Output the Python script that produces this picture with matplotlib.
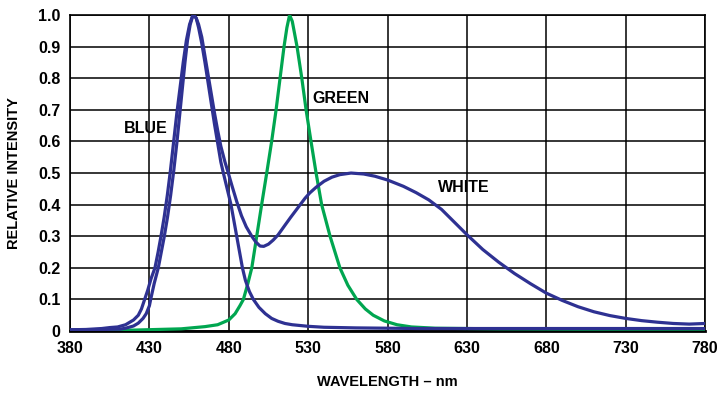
import matplotlib
matplotlib.use("Agg")
import matplotlib.pyplot as plt

# wavelength (nm) / relative intensity
blue_nm = [380, 390, 400, 411.5, 415, 420, 423, 426, 428, 430, 430.8, 433, 435.6, 437.5,
           439.4, 441.4, 443.4, 445.4, 447.4, 449.2, 450.8, 452.4, 454, 455.7, 457.2, 458,
           459.5, 461, 463, 465, 467, 469, 471, 473, 475, 476.6, 479, 481.4, 483.2, 485,
           486.8, 488.6, 490.5, 493, 495.5, 499, 503, 507, 511, 515.4, 520, 530, 540, 560,
           600, 700, 780]
blue_val = [0.004, 0.004, 0.005, 0.006, 0.009, 0.016, 0.025, 0.04, 0.055, 0.08, 0.1, 0.15,
            0.2, 0.25, 0.3, 0.36, 0.43, 0.51, 0.6, 0.69, 0.77, 0.85, 0.92, 0.97, 0.995, 1.0,
            0.99, 0.96, 0.91, 0.85, 0.785, 0.72, 0.655, 0.595, 0.535, 0.5, 0.45, 0.4, 0.35,
            0.3, 0.25, 0.2, 0.16, 0.125, 0.1, 0.075, 0.055, 0.04, 0.031, 0.024, 0.02, 0.015,
            0.012, 0.01, 0.008, 0.008, 0.008]

white_nm = [380, 390, 400, 405, 410, 415, 420, 423, 425, 427, 429, 431, 433.5, 435.5,
            437.3, 439.3, 441.3, 443.3, 445.3, 447.3, 449.3, 451.3, 453.3, 455.3, 457, 458,
            459.5, 461, 463, 465, 467, 469, 471, 473, 475, 477.6, 479.7, 482, 485, 488, 491,
            494.5, 497, 499.7, 502, 505, 508, 511, 515.4, 519, 522, 525, 528, 531, 535, 540,
            545, 550, 557, 565, 572, 580, 590, 598, 606, 614, 622, 630, 640, 650, 660, 670,
            680, 690, 700, 710, 720, 730, 740, 750, 760, 770, 780]
white_val = [0.004, 0.005, 0.008, 0.011, 0.013, 0.02, 0.035, 0.05, 0.07, 0.1, 0.13, 0.165,
             0.2, 0.25, 0.3, 0.36, 0.43, 0.51, 0.6, 0.69, 0.77, 0.85, 0.92, 0.97, 0.995,
             1.0, 0.99, 0.97, 0.93, 0.87, 0.81, 0.75, 0.69, 0.635, 0.585, 0.535, 0.5, 0.46,
             0.41, 0.365, 0.33, 0.3, 0.282, 0.269, 0.268, 0.275, 0.288, 0.304, 0.335, 0.36,
             0.38, 0.4, 0.42, 0.437, 0.455, 0.474, 0.487, 0.495, 0.5, 0.497, 0.49, 0.478,
             0.458, 0.438, 0.415, 0.385, 0.345, 0.305, 0.258, 0.218, 0.182, 0.15, 0.12,
             0.097, 0.077, 0.061, 0.049, 0.04, 0.033, 0.028, 0.024, 0.022, 0.024]

green_nm = [380, 420, 450, 465, 473, 480, 484, 487, 489.2, 492, 494.5, 497.6, 500.7, 503.9,
            507, 509.8, 512.3, 514.8, 516.6, 518.3, 520, 521.5, 523, 526, 528.7, 531.8, 535,
            538.5, 543.8, 550, 555, 560.6, 566, 571, 578, 586, 595, 610, 650, 700, 780]
green_val = [0.002, 0.003, 0.007, 0.014, 0.02, 0.035, 0.055, 0.08, 0.1, 0.15, 0.2, 0.3,
             0.4, 0.5, 0.6, 0.7, 0.8, 0.9, 0.96, 1.0, 0.98, 0.94, 0.9, 0.8, 0.7, 0.6, 0.5,
             0.4, 0.3, 0.2, 0.145, 0.1, 0.07, 0.05, 0.032, 0.02, 0.013, 0.009, 0.007, 0.006,
             0.006]

x_ticks = list(range(380, 781, 50))
y_ticks = [0, 0.1, 0.2, 0.3, 0.4, 0.5, 0.6, 0.7, 0.8, 0.9, 1.0]
y_labels = ["0", "0.1", "0.2", "0.3", "0.4", "0.5", "0.6", "0.7", "0.8", "0.9", "1.0"]

BLUE = "#2e3192"
GREEN = "#00a650"
fam = ["Liberation Sans Narrow", "Liberation Sans", "DejaVu Sans"]

fig = plt.figure(figsize=(7.18, 3.96), dpi=100)
ax = fig.add_axes([0.0975, 0.164, 0.8845, 0.798])

ax.plot(green_nm, green_val, color=GREEN, lw=2.3, zorder=3)
ax.plot(white_nm, white_val, color=BLUE, lw=2.3, zorder=4)
ax.plot(blue_nm, blue_val, color=BLUE, lw=2.3, zorder=4)

ax.set_xlim(380, 780)
ax.set_ylim(0, 1.0)
ax.set_xticks(x_ticks)
ax.set_xticklabels([str(t) for t in x_ticks], family=fam, fontweight="bold", fontsize=11.5)
ax.set_yticks(y_ticks)
ax.set_yticklabels(y_labels, family=fam, fontweight="bold", fontsize=11.5)
ax.tick_params(length=0, pad=7)
ax.grid(True, color="black", lw=1.1)
ax.set_axisbelow(True)
for s in ax.spines.values():
    s.set_color("black")
    s.set_linewidth(1.2)
ax.spines["bottom"].set_linewidth(2)

ax.set_xlabel("WAVELENGTH – nm", family=fam, fontweight="bold", fontsize=10.5, labelpad=14)
ax.set_ylabel("RELATIVE INTENSITY", family=fam, fontweight="bold", fontsize=10.5, labelpad=12)

ax.text(428, 0.642, "BLUE", family=fam, fontweight="bold", fontsize=11.5, ha="center", va="center")
ax.text(550.7, 0.737, "GREEN", family=fam, fontweight="bold", fontsize=11.5, ha="center", va="center")
ax.text(628, 0.453, "WHITE", family=fam, fontweight="bold", fontsize=11.5, ha="center", va="center")

fig.savefig("out.png", dpi=100)
